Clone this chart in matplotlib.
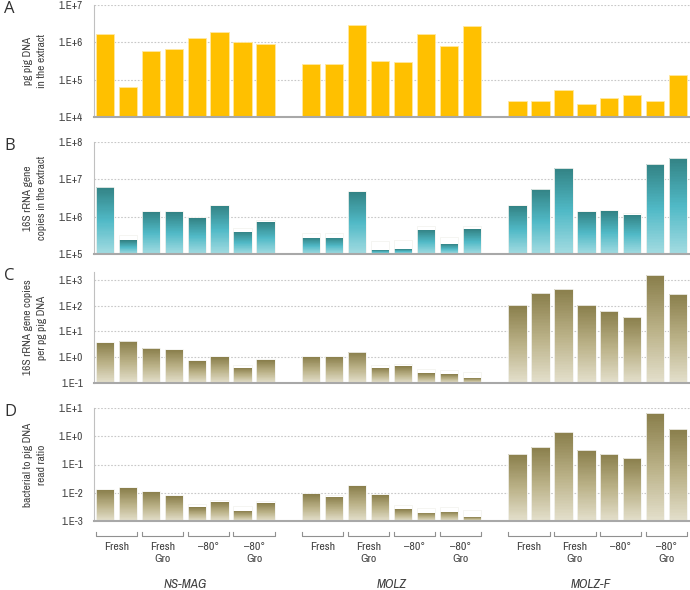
import numpy as np
import matplotlib
matplotlib.use("Agg")
import matplotlib.pyplot as plt
from matplotlib import font_manager
from matplotlib.colors import LinearSegmentedColormap
from matplotlib.ticker import FixedLocator, NullLocator
from matplotlib.transforms import blended_transform_factory

_avail = set(f.name for f in font_manager.fontManager.ttflist)
_pref = ['Liberation Sans Narrow', 'Arial Narrow', 'Nimbus Sans Narrow', 'Archivo Narrow',
         'Roboto Condensed', 'Liberation Sans']
narrow_font = next(n for n in _pref + ['DejaVu Sans'] if n in _avail or n == 'DejaVu Sans')
plt.rcParams['font.family'] = [narrow_font, 'DejaVu Sans']

# ---------------- data ----------------
groups = ["NS-MAG", "MOLZ", "MOLZ-F"]
conditions = ["Fresh", "Fresh\nGro", "\u201380\u00b0", "\u201380\u00b0\nGro"]

pig_dna = [1.64e6, 5.5e4, 5.9e5, 6.5e5, 1.28e6, 1.85e6, 9.8e5, 9.2e5,
           2.47e5, 2.57e5, 2.9e6, 3.0e5, 2.9e5, 1.7e6, 8.1e5, 2.8e6,
           1.74e4, 1.67e4, 4.3e4, 1.2e4, 2.2e4, 3.0e4, 1.67e4, 1.23e5]

rrna_copies = [6.3e6, 2.3e5, 1.35e6, 1.32e6, 9.1e5, 1.99e6, 4.0e5, 7.1e5,
               2.7e5, 2.75e5, 4.7e6, 1.28e5, 1.36e5, 4.5e5, 1.86e5, 4.6e5,
               1.95e6, 5.5e6, 2.05e7, 1.35e6, 1.4e6, 1.14e6, 2.6e7, 3.8e7]

rrna_per_pg = [3.7, 4.2, 2.2, 1.93, 0.69, 0.98, 0.39, 0.75,
               1.04, 1.04, 1.57, 0.39, 0.44, 0.24, 0.22, 0.156,
               105, 315, 450, 105, 60, 37, 1500, 297]

read_ratio = [0.0126, 0.0144, 0.011, 0.0075, 0.00306, 0.0047, 0.00227, 0.00424,
              0.0088, 0.0073, 0.0174, 0.00836, 0.0026, 0.00198, 0.00215, 0.00139,
              0.237, 0.41, 1.42, 0.33, 0.243, 0.171, 6.5, 1.82]

panel_letters = ["A", "B", "C", "D"]
ylabels = ["pg pig DNA\nin the extract",
           "16S rRNA gene\ncopies in the extract",
           "16S rRNA gene copies\nper pg pig DNA",
           "bacterial to pig DNA\nread ratio"]
ylims = [(1e4, 1e7), (1e5, 1e8), (1e-1, 2e3), (1e-3, 1e1)]
tick_exps = [[4, 5, 6, 7], [5, 6, 7, 8], [-1, 0, 1, 2, 3], [-3, -2, -1, 0, 1]]

# ---------------- styling ----------------
W, H = 690, 590
fig = plt.figure(figsize=(W / 100, H / 100), dpi=100)

pix = [(5, 117), (142, 254), (272.2, 383), (408, 521)]
left_px, right_px = 94, 690

gold = "#FFC000"
teal_cmap = LinearSegmentedColormap.from_list(
    "teal", [(0.0, "#a2dbe1"), (0.5, "#50b9c6"), (1.0, "#338385")])
olive_cmap = LinearSegmentedColormap.from_list(
    "olive", [(0.0, "#e3dfcb"), (0.5, "#bab187"), (1.0, "#8a7f4c")])
cmaps = [None, teal_cmap, olive_cmap, olive_cmap]

text_col = "#404040"
bar_w = 0.8

slots = []
for g in range(3):
    for i in range(8):
        slots.append(g * 9 + i)
slots = np.array(slots)

series = [pig_dna, rrna_copies, rrna_per_pg, read_ratio]

axes = []
for k in range(4):
    top, bot = pix[k]
    ax = fig.add_axes([left_px / W, 1 - bot / H, (right_px - left_px) / W, (bot - top) / H])
    axes.append(ax)
    ax.set_yscale("log")
    ax.set_ylim(*ylims[k])
    ax.set_xlim(-0.48, 25.52)
    vals = series[k]
    if cmaps[k] is None:
        ax.bar(slots, vals, width=bar_w, bottom=ylims[k][0], color=gold,
               edgecolor="#ffe8a0", linewidth=0.6, zorder=3)
    else:
        cm = cmaps[k]
        b0 = ylims[k][0]
        for x, v in zip(slots, vals):
            ye = np.geomspace(b0, v, 60)
            xe = np.array([x - bar_w / 2, x + bar_w / 2])
            C = np.linspace(0, 1, 59).reshape(-1, 1)
            ax.pcolormesh(xe, ye, C, cmap=cm, vmin=0, vmax=1, shading="flat", zorder=3)
        ax.bar(slots, vals, width=bar_w, bottom=b0, facecolor="none",
               edgecolor="#f4f4f0", linewidth=0.6, zorder=4)

    exps = tick_exps[k]
    ax.yaxis.set_major_locator(FixedLocator([10.0 ** e for e in exps]))
    ax.yaxis.set_minor_locator(NullLocator())
    ax.set_yticklabels([f"1.E{e:+d}" for e in exps])
    ax.tick_params(axis="y", length=0, pad=8, labelsize=8, labelcolor=text_col)
    ax.set_xticks([])
    ax.grid(axis="y", which="major", linestyle=(0, (1.5, 1.5)), color="#c8c8c8",
            linewidth=0.8, zorder=0)
    ax.set_axisbelow(True)
    for s in ["top", "right"]:
        ax.spines[s].set_visible(False)
    ax.spines["left"].set_color("#c0c0c0")
    ax.spines["left"].set_linewidth(0.8)
    ax.spines["bottom"].set_color("#a8a8a8")
    ax.spines["bottom"].set_linewidth(1.5)
    ax.spines["bottom"].set_zorder(5)

    yc = 1 - ((top + bot) / 2) / H
    fig.text(35 / W, yc, ylabels[k], rotation=90, ha="center", va="center",
             fontsize=8.2, color=text_col, linespacing=1.45)
    fig.text(4 / W, 1 - (top + 4) / H, panel_letters[k], ha="left", va="center",
             fontsize=12, color="#303030", family=["Open Sans", "DejaVu Sans"])

# ---------------- bottom brackets and labels ----------------
axD = axes[3]
hD = pix[3][1] - pix[3][0]
trans = blended_transform_factory(axD.transData, axD.transAxes)
y_line = -15 / hD
y_tick = -11 / hD
group_label_x = [3.5, 12.5, 21.2]
for g in range(3):
    for c in range(4):
        s0 = g * 9 + c * 2
        x0 = s0 - bar_w / 2
        x1 = s0 + 1 + bar_w / 2
        axD.plot([x0, x0, x1, x1], [y_tick, y_line, y_line, y_tick], transform=trans,
                 color="#909090", linewidth=0.8, clip_on=False)
        axD.text((x0 + x1) / 2, -21 / hD, conditions[c], transform=trans,
                 ha="center", va="top", fontsize=8.5, color=text_col, linespacing=1.3)
    axD.text(group_label_x[g], -64 / hD, groups[g], transform=trans, ha="center",
             va="center", fontsize=9.5, style="italic", color=text_col)

fig.savefig("out.png", dpi=100)
